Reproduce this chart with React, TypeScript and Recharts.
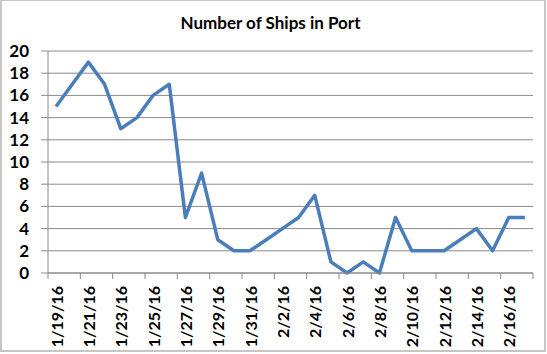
import React from 'react';
import { LineChart, Line, XAxis, YAxis, CartesianGrid } from 'recharts';

const title = 'Number of Ships in Port';
const dates = [
  '1/19/16', '1/20/16', '1/21/16', '1/22/16', '1/23/16', '1/24/16', '1/25/16', '1/26/16',
  '1/27/16', '1/28/16', '1/29/16', '1/30/16', '1/31/16', '2/1/16', '2/2/16', '2/3/16',
  '2/4/16', '2/5/16', '2/6/16', '2/7/16', '2/8/16', '2/9/16', '2/10/16', '2/11/16',
  '2/12/16', '2/13/16', '2/14/16', '2/15/16', '2/16/16', '2/17/16',
];
const ships = [15, 17, 19, 17, 13, 14, 16, 17, 5, 9, 3, 2, 2, 3, 4, 5, 7, 1, 0, 1, 0, 5, 2, 2, 2, 3, 4, 2, 5, 5];
const yTicks = [0, 2, 4, 6, 8, 10, 12, 14, 16, 18, 20];

const data = dates.map((d, i) => ({ date: d, ships: ships[i] }));

const FONT = 'Lato, "Open Sans", sans-serif';
const W = 547;
const H = 354;
const MARGIN = { top: 51, right: 14, left: 0, bottom: 0 };
const Y_W = 48;
const PLOT_W = W - MARGIN.right - MARGIN.left - Y_W;
const BW = PLOT_W / dates.length;
const AXIS_COLOR = '#8a8a8a';

function XTick(props: any) {
  const { x, y, payload } = props;
  const i = payload.index;
  const n = dates.length;
  return (
    <g>
      {i % 2 === 0 && (
        <line x1={x - BW / 2} x2={x - BW / 2} y1={y} y2={y + 6} stroke={AXIS_COLOR} strokeWidth={1} />
      )}
      {i === n - 1 && (
        <line x1={x + BW / 2} x2={x + BW / 2} y1={y} y2={y + 6} stroke={AXIS_COLOR} strokeWidth={1} />
      )}
      {i % 2 === 0 && (
        <text
          x={x}
          y={y + 13}
          transform={`rotate(-90, ${x}, ${y + 13})`}
          textAnchor="end"
          dominantBaseline="central"
          fontFamily={FONT}
          fontWeight={700}
          fontSize={16}
          fill="#000"
        >
          {payload.value}
        </text>
      )}
    </g>
  );
}

export default function App() {
  return (
    <div style={{ position: 'absolute', left: 0, top: 0, width: W, height: H, background: '#fff' }}>
      <div
        style={{
          position: 'absolute',
          left: 0,
          top: 0,
          width: 546,
          height: 352,
          boxSizing: 'border-box',
          border: '2px solid #c6c6c6',
          borderTopWidth: 1,
        }}
      />
      <div
        style={{
          position: 'absolute',
          left: 0,
          width: W - 6,
          top: 12,
          textAlign: 'center',
          fontFamily: FONT,
          fontWeight: 700,
          fontSize: 17,
          lineHeight: '22px',
          color: '#000',
        }}
      >
        {title}
      </div>
      <div style={{ position: 'absolute', left: 0, top: 0 }}>
        <LineChart width={W} height={H} data={data} margin={MARGIN}>
          <CartesianGrid vertical={false} stroke={AXIS_COLOR} strokeWidth={1} />
          <XAxis
            dataKey="date"
            interval={0}
            padding={{ left: BW / 2, right: BW / 2 }}
            height={H - MARGIN.top - 222}
            tickLine={false}
            tickSize={0}
            tickMargin={0}
            axisLine={{ stroke: AXIS_COLOR }}
            tick={<XTick />}
          />
          <YAxis
            width={Y_W}
            domain={[0, 20]}
            ticks={yTicks}
            interval={0}
            tickSize={7}
            tickMargin={12}
            axisLine={{ stroke: AXIS_COLOR }}
            tickLine={{ stroke: AXIS_COLOR }}
            tick={{ fontFamily: FONT, fontWeight: 700, fontSize: 17, fill: '#000' }}
          />
          <Line
            type="linear"
            dataKey="ships"
            stroke="#4A7EBB"
            strokeWidth={3.5}
            strokeLinejoin="round"
            dot={false}
            activeDot={false}
            isAnimationActive={false}
          />
        </LineChart>
      </div>
    </div>
  );
}
